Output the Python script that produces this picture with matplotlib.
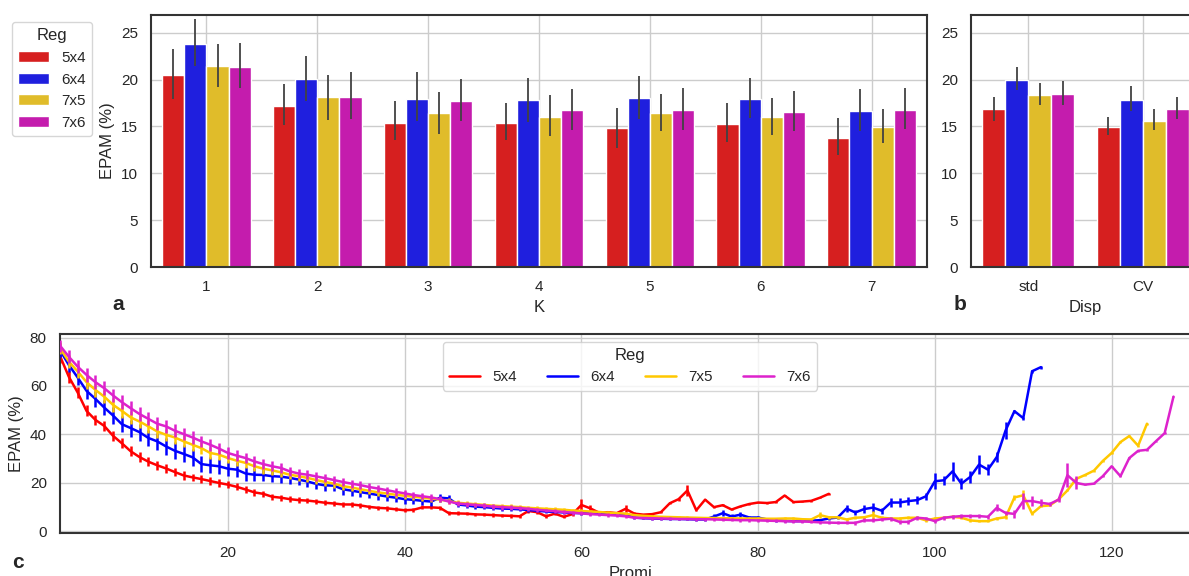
import matplotlib
matplotlib.use("Agg")
import matplotlib.pyplot as plt
from matplotlib.patches import Patch
from matplotlib.lines import Line2D
import numpy as np
import seaborn as sns

sns.set_theme(style="whitegrid")
plt.rcParams['font.family'] = ['Liberation Sans', 'DejaVu Sans']
plt.rcParams['axes.edgecolor'] = '.2'
plt.rcParams['axes.linewidth'] = 1.5

regs = ["5x4", "6x4", "7x5", "7x6"]
bar_colors = ["#D61F1F", "#1F1FDE", "#E0BC2A", "#C41CAD"]
line_colors = ["#FF0000", "#0000FF", "#FFC800", "#DD22CC"]

# panel a : EPAM per K
k_labels = ["1", "2", "3", "4", "5", "6", "7"]
k_mean = {
    "5x4": [20.47, 17.23, 15.41, 15.41, 14.80, 15.23, 13.77],
    "6x4": [23.79, 20.04, 17.97, 17.80, 18.08, 17.97, 16.69],
    "7x5": [21.47, 18.12, 16.40, 16.05, 16.44, 15.98, 14.98],
    "7x6": [21.36, 18.19, 17.72, 16.76, 16.80, 16.55, 16.80],
}
k_lo = {
    "5x4": [17.97, 15.12, 13.55, 13.55, 12.66, 13.37, 11.95],
    "6x4": [21.47, 17.69, 15.58, 15.48, 15.76, 15.87, 14.55],
    "7x5": [19.22, 15.69, 14.16, 13.94, 14.51, 14.09, 13.23],
    "7x6": [19.08, 15.83, 15.62, 14.59, 14.66, 14.48, 14.73],
}
k_hi = {
    "5x4": [23.30, 19.54, 17.76, 17.55, 17.01, 17.51, 15.91],
    "6x4": [26.46, 22.54, 20.79, 20.15, 20.43, 20.19, 19.04],
    "7x5": [23.79, 20.54, 18.72, 18.33, 18.51, 18.08, 16.90],
    "7x6": [23.90, 20.86, 20.04, 19.04, 19.15, 18.83, 19.12],
}

# panel b : EPAM per dispersion measure
disp_labels = ["std", "CV"]
d_mean = {"5x4": [16.90, 14.98], "6x4": [19.97, 17.80], "7x5": [18.37, 15.62], "7x6": [18.51, 16.83]}
d_lo = {"5x4": [15.62, 14.09], "6x4": [18.90, 16.65], "7x5": [17.33, 14.59], "7x6": [17.26, 15.80]}
d_hi = {"5x4": [18.19, 16.05], "6x4": [21.40, 19.29], "7x5": [19.69, 16.90], "7x6": [19.86, 18.15]}

# panel c : EPAM vs Promi (mean, error half width), x starts at 1
red_mean = [72.4, 63.8, 57.3, 49.7, 46.0, 43.5, 39.4, 36.3, 33.0, 30.6,
            28.7, 27.2, 25.9, 24.4, 23.0, 22.2, 21.5, 20.7, 19.9, 19.2,
            18.3, 17.2, 16.0, 15.4, 14.2, 13.8, 13.2, 12.8, 12.6, 12.2,
            11.7, 11.4, 11.0, 11.0, 10.6, 10.0, 9.6, 9.4, 9.0, 8.6,
            8.8, 9.8, 9.8, 9.6, 7.4, 7.3, 7.2, 6.9, 6.8, 6.6,
            6.4, 6.3, 6.1, 8.3, 7.8, 6.1, 7.2, 5.9, 7.0, 10.8,
            9.4, 7.6, 7.8, 7.4, 9.2, 7.2, 6.8, 7.0, 7.8, 11.5,
            13.2, 16.8, 8.6, 13.0, 9.9, 10.7, 8.9, 10.2, 11.2, 11.8,
            11.6, 12.0, 14.7, 12.0, 12.2, 12.5, 13.8, 15.4]
red_err = [3.0, 2.6, 2.4, 2.3, 2.2, 2.2, 2.1, 2.0, 2.0, 1.9,
           1.9, 1.8, 1.8, 1.7, 1.7, 1.6, 1.6, 1.5, 1.5, 1.5,
           1.4, 1.4, 1.3, 1.3, 1.3, 1.2, 1.2, 1.2, 1.1, 1.1,
           1.1, 1.0, 1.0, 1.0, 1.0, 0.9, 0.9, 0.9, 0.9, 0.9,
           0.9, 0.8, 0.8, 0.8, 0.8, 0.8, 0.7, 0.7, 0.7, 0.7,
           0.7, 0.7, 0.7, 0.8, 0.7, 0.9, 0.6, 0.6, 0.6, 2.4,
           1.2, 0.5, 0.5, 0.5, 1.5, 0.5, 0.4, 0.4, 0.4, 0.5,
           0.6, 2.4, 0.3, 0.3, 0.3, 0.3, 0.3, 0.3, 0.3, 0.3,
           0.3, 0.3, 0.3, 0.3, 0.3, 0.3, 0.3, 0.3]

blue_mean = [74.8, 68.7, 63.5, 58.0, 54.7, 51.1, 47.8, 44.2, 42.6, 40.9,
             38.5, 37.1, 35.0, 33.2, 31.9, 30.5, 27.7, 27.2, 26.8, 25.8,
             25.4, 23.8, 23.3, 23.2, 22.7, 22.5, 22.0, 21.3, 20.5, 19.5,
             18.9, 18.8, 17.3, 16.7, 16.1, 15.5, 14.9, 14.3, 13.8, 13.2,
             12.9, 12.5, 12.2, 13.8, 13.5, 11.0, 10.6, 10.1, 9.9, 9.6,
             9.3, 9.2, 9.0, 8.7, 8.4, 8.1, 7.9, 7.7, 7.5, 7.4,
             7.3, 7.2, 7.2, 7.1, 7.0, 5.6, 5.3, 5.2, 5.1, 5.0,
             5.0, 4.9, 4.8, 4.8, 6.0, 7.4, 6.0, 6.8, 5.6, 5.6,
             4.8, 4.4, 4.2, 4.1, 4.1, 4.3, 4.5, 5.2, 5.6, 9.3,
             7.7, 9.1, 9.7, 8.4, 11.8, 11.8, 12.4, 12.8, 14.4, 20.6,
             21.0, 24.7, 19.6, 22.4, 27.5, 25.4, 30.6, 41.6, 49.6, 46.7,
             66.1, 67.8]
blue_err = [3.0, 3.0, 3.2, 3.2, 3.3, 3.3, 3.4, 3.4, 3.5, 3.5,
            3.5, 3.5, 3.5, 3.5, 3.5, 3.4, 3.4, 3.3, 3.2, 3.1,
            3.0, 2.9, 2.8, 2.7, 2.6, 2.5, 2.5, 2.4, 2.4, 2.3,
            2.3, 2.2, 2.2, 2.1, 2.1, 2.0, 2.0, 2.0, 1.9, 1.9,
            1.8, 1.8, 1.7, 1.7, 1.6, 1.1, 1.0, 1.0, 0.9, 0.9,
            0.9, 0.8, 0.8, 0.8, 0.7, 0.7, 0.6, 0.6, 0.6, 0.6,
            0.5, 0.5, 0.5, 0.5, 0.5, 0.5, 0.5, 0.5, 0.5, 0.5,
            0.5, 0.5, 0.5, 0.5, 0.9, 1.2, 0.9, 1.1, 0.6, 0.6,
            0.5, 0.5, 0.5, 0.5, 0.5, 0.5, 0.5, 0.6, 0.8, 1.6,
            1.2, 1.6, 1.9, 1.3, 2.0, 1.7, 1.6, 1.7, 1.4, 3.4,
            1.9, 3.8, 2.3, 2.4, 4.0, 2.4, 2.0, 3.4, 0.6, 0.6,
            0.6, 0.6]

yellow_mean = [75.6, 70.1, 66.0, 61.6, 58.4, 55.6, 52.2, 49.7, 47.0, 45.3,
               43.3, 41.2, 39.8, 38.7, 37.1, 35.7, 34.3, 32.3, 31.6, 30.2,
               29.1, 28.2, 26.8, 25.8, 25.1, 24.3, 23.3, 22.7, 22.0, 21.1,
               20.3, 19.6, 18.6, 18.0, 17.3, 16.6, 16.0, 15.5, 15.0, 14.6,
               14.2, 13.8, 13.4, 13.0, 12.4, 11.7, 11.4, 11.1, 10.8, 10.5,
               10.3, 10.1, 9.9, 9.6, 9.4, 9.2, 9.0, 8.8, 8.5, 8.3,
               8.1, 7.9, 7.6, 7.4, 7.2, 6.6, 6.3, 6.1, 5.9, 5.8,
               5.7, 5.6, 5.5, 5.4, 5.4, 5.3, 5.3, 5.2, 5.2, 5.2,
               5.1, 5.1, 5.2, 5.2, 4.9, 4.8, 6.6, 5.7, 5.7, 4.8,
               5.5, 5.7, 6.6, 5.5, 5.2, 5.2, 5.5, 5.5, 4.4, 5.2,
               5.5, 5.9, 5.5, 4.4, 4.1, 4.1, 5.2, 5.7, 13.9, 14.8,
               7.2, 10.3, 10.6, 13.1, 16.8, 21.6, 23.2, 25.0, 29.0, 32.3,
               36.8, 39.3, 35.3, 44.4]
yellow_err = [2.5, 2.6, 2.7, 2.8, 2.8, 2.8, 2.8, 2.8, 2.8, 2.7,
              2.7, 2.6, 2.6, 2.5, 2.5, 2.4, 2.4, 2.3, 2.3, 2.2,
              2.2, 2.1, 2.1, 2.0, 2.0, 1.9, 1.9, 1.8, 1.8, 1.7,
              1.7, 1.6, 1.6, 1.5, 1.5, 1.4, 1.4, 1.3, 1.3, 1.3,
              1.2, 1.2, 1.2, 1.1, 1.1, 1.0, 1.0, 1.0, 1.0, 0.9,
              0.9, 0.9, 0.9, 0.8, 0.8, 0.8, 0.8, 0.7, 0.7, 0.7,
              0.6, 0.6, 0.6, 0.6, 0.6, 0.5, 0.5, 0.5, 0.5, 0.5,
              0.5, 0.5, 0.5, 0.5, 0.5, 0.5, 0.5, 0.5, 0.5, 0.5,
              0.5, 0.5, 0.5, 0.5, 0.5, 0.5, 1.2, 0.6, 0.6, 0.5,
              0.6, 0.6, 1.5, 0.6, 0.6, 0.6, 0.6, 0.6, 0.5, 0.6,
              0.6, 0.6, 0.6, 0.5, 0.5, 0.5, 0.5, 0.6, 1.0, 2.0,
              0.4, 0.4, 0.4, 0.4, 0.4, 0.4, 0.4, 0.4, 0.4, 0.4,
              0.4, 0.4, 0.4, 0.4]

magenta_mean = [76.7, 72.1, 68.0, 64.6, 61.6, 59.1, 56.1, 53.3, 50.8, 48.4,
                46.4, 44.4, 43.3, 41.5, 40.1, 38.7, 37.1, 35.7, 34.1, 32.3,
                31.2, 30.2, 28.8, 27.7, 26.8, 26.1, 24.7, 23.8, 23.3, 22.6,
                21.9, 21.1, 20.3, 19.6, 19.0, 18.2, 17.6, 16.9, 16.2, 15.6,
                14.9, 14.4, 13.9, 13.2, 12.2, 11.4, 11.1, 10.8, 10.5, 10.1,
                9.9, 9.7, 9.5, 9.2, 8.8, 8.5, 8.2, 7.9, 7.6, 7.3,
                7.0, 6.8, 6.6, 6.4, 6.1, 5.5, 5.4, 5.3, 5.2, 5.1,
                5.0, 5.0, 4.9, 4.9, 4.8, 4.7, 4.6, 4.5, 4.5, 4.4,
                4.3, 4.2, 4.1, 4.0, 4.0, 3.8, 3.6, 3.5, 3.4, 3.4,
                3.4, 4.4, 4.4, 4.8, 5.1, 3.8, 3.8, 5.5, 5.2, 4.1,
                5.5, 5.9, 6.2, 6.2, 6.2, 5.9, 9.6, 7.5, 7.1, 12.4,
                12.4, 11.7, 11.2, 13.0, 23.1, 19.9, 19.2, 19.6, 22.7, 26.8,
                22.7, 30.2, 33.2, 33.6, 37.1, 40.5, 55.6]
magenta_err = [2.5, 2.7, 2.8, 2.8, 2.8, 2.8, 2.8, 2.8, 2.8, 2.8,
               2.7, 2.7, 2.6, 2.6, 2.5, 2.5, 2.4, 2.4, 2.3, 2.3,
               2.2, 2.2, 2.1, 2.1, 2.0, 2.0, 1.9, 1.9, 1.8, 1.8,
               1.7, 1.7, 1.7, 1.6, 1.6, 1.6, 1.5, 1.5, 1.5, 1.4,
               1.4, 1.3, 1.3, 1.3, 1.2, 1.1, 1.1, 1.0, 1.0, 1.0,
               1.0, 0.9, 0.9, 0.9, 0.9, 0.8, 0.8, 0.8, 0.8, 0.8,
               0.7, 0.7, 0.7, 0.7, 0.7, 0.6, 0.6, 0.6, 0.6, 0.6,
               0.6, 0.6, 0.6, 0.6, 0.6, 0.6, 0.6, 0.6, 0.6, 0.6,
               0.6, 0.6, 0.6, 0.6, 0.6, 0.6, 0.6, 0.6, 0.6, 0.6,
               0.7, 0.8, 0.8, 0.8, 0.8, 0.8, 0.8, 0.9, 0.8, 0.8,
               0.9, 0.9, 0.9, 0.9, 0.9, 0.9, 1.5, 1.0, 1.5, 3.2,
               2.0, 1.5, 1.0, 1.0, 5.0, 2.7, 0.3, 0.3, 0.3, 0.3,
               0.3, 0.3, 0.3, 0.3, 0.3, 0.3, 0.3]

promi_series = {"5x4": (red_mean, red_err), "6x4": (blue_mean, blue_err),
                "7x5": (yellow_mean, yellow_err), "7x6": (magenta_mean, magenta_err)}

W, H = 1189, 576
fig = plt.figure(figsize=(W / 100, H / 100), dpi=100)

def box(l, t, r, b):
    return [l / W, 1 - b / H, (r - l) / W, (b - t) / H]

ax_a = fig.add_axes(box(151, 15, 927, 267))
ax_b = fig.add_axes(box(971, 15, 1200, 267))
ax_c = fig.add_axes(box(60, 334, 1200, 533))

def bars(ax, labels, mean, lo, hi):
    x = np.arange(len(labels))
    for j, r in enumerate(regs):
        xp = x + (j - 1.5) * 0.2
        ax.bar(xp, mean[r], width=0.2, color=bar_colors[j], edgecolor="white", linewidth=1, zorder=2)
        ax.vlines(xp, lo[r], hi[r], color=".26", linewidth=1.3, zorder=3)
    ax.set_xticks(x)
    ax.set_xticklabels(labels)
    ax.set_xlim(-0.5, len(labels) - 0.5)
    ax.set_ylim(0, 26.9)
    ax.set_yticks([0, 5, 10, 15, 20, 25])
    ax.set_axisbelow(True)
    ax.tick_params(length=0, pad=9.5, labelsize=11, colors=".15")

bars(ax_a, k_labels, k_mean, k_lo, k_hi)
bars(ax_b, disp_labels, d_mean, d_lo, d_hi)
ax_a.set_xlabel("K", fontsize=12, color=".15")
ax_a.set_ylabel("EPAM (%)", fontsize=12, color=".15")
ax_b.set_xlabel("Disp", fontsize=12, color=".15")

handles = [Patch(facecolor=c, edgecolor="white") for c in bar_colors]
fig.legend(handles, regs, title="Reg", loc="upper left", bbox_to_anchor=(4.5 / W, 1 - 14.5 / H),
           fontsize=11, title_fontsize=12, frameon=True)

for j, r in enumerate(regs):
    m, e = promi_series[r]
    xs = np.arange(1, len(m) + 1)
    ax_c.errorbar(xs, m, yerr=e, color=line_colors[j], linewidth=1.8, elinewidth=1.8,
                  capsize=0, zorder=2 + j)
ax_c.set_xlim(1, 130)
ax_c.set_ylim(-0.8, 81.5)
ax_c.set_xticks([20, 40, 60, 80, 100, 120])
ax_c.set_yticks([0, 20, 40, 60, 80])
ax_c.tick_params(length=0, pad=9.5, labelsize=11, colors=".15")
ax_c.set_xlabel("Promi", fontsize=12, color=".15")
ax_c.set_ylabel("EPAM (%)", fontsize=12, color=".15")
line_handles = [Line2D([], [], color=c, linewidth=1.8) for c in line_colors]
ax_c.legend(line_handles, regs, title="Reg", loc="upper center", ncol=4, fontsize=11, title_fontsize=12)

for letter, (px, py) in zip("abc", [(118, 305), (960, 305), (18, 563)]):
    fig.text(px / W, 1 - py / H, letter, fontsize=15, fontweight="bold", ha="center", va="center")

fig.savefig("out.png", dpi=100)
